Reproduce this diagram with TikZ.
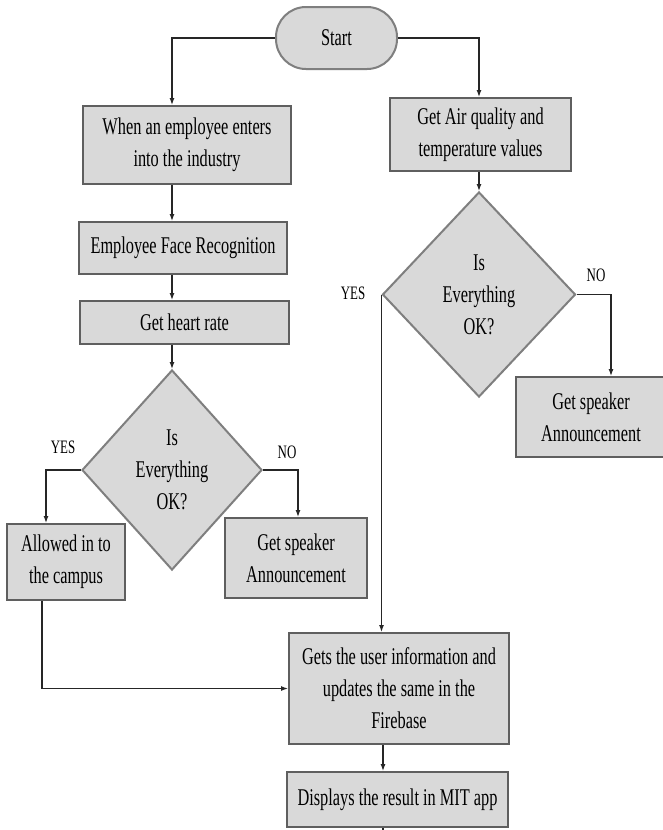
\documentclass[tikz,border=0pt]{standalone}
\usepackage{fontspec}
\setmainfont{Liberation Serif}[FakeStretch=0.68]
\usetikzlibrary{shapes.geometric,arrows.meta,calc}
\definecolor{boxfill}{HTML}{D9D9D9}
\definecolor{boxline}{HTML}{5F5F5F}
\definecolor{softline}{HTML}{7F7F7F}
\definecolor{conn}{HTML}{262626}
\newcommand\fcmain{\fontsize{24}{32}\selectfont}
\newcommand\fclabel{\fontsize{19}{22}\selectfont}
\begin{document}
\begin{tikzpicture}[x=1pt,y=-1pt,
  proc/.style={draw=boxline, line width=2pt, fill=boxfill, inner sep=0pt,
    align=center, font=\fcmain, text=black},
  term/.style={draw=softline, line width=2pt, fill=boxfill, inner sep=0pt,
    rounded corners=30pt, align=center, font=\fcmain, text=black},
  dec/.style={shape=diamond, draw=softline, line width=2pt, fill=boxfill,
    inner sep=0pt, align=center, font=\fcmain, text=black},
  lbl/.style={inner sep=0pt, font=\fclabel, text=black},
  arr/.style={draw=conn, line width=1.2pt, -{Latex[length=7pt,width=5pt]}},
  conline/.style={draw=conn, line width=1.2pt}]
\useasboundingbox (0,0) rectangle (663,830);
\fill[white] (0,0) rectangle (663,830);

% nodes
\node[term, minimum width=121pt, minimum height=62pt] (start) at (336.5,38) {Start};
\node[proc, minimum width=208pt, minimum height=78pt] (enter) at (187,145) {When an employee enters\\into the industry};
\node[proc, minimum width=181pt, minimum height=73pt] (air) at (480.5,134.5) {Get Air quality and\\temperature values};
\node[proc, minimum width=208pt, minimum height=52pt] (face) at (183,248) {Employee Face Recognition};
\node[proc, minimum width=209pt, minimum height=43pt] (heart) at (184.5,322.5) {Get heart rate};
\node[dec, minimum width=180pt, minimum height=200pt] (decL) at (172,470) {Is\\Everything\\OK?};
\node[dec, minimum width=193pt, minimum height=205pt] (decR) at (479,294.5) {Is\\Everything\\OK?};
\node[proc, minimum width=118pt, minimum height=76pt] (allow) at (66,562) {Allowed in to\\the campus};
\node[proc, minimum width=142pt, minimum height=80pt] (spkL) at (296,558) {Get speaker\\Announcement};
\node[proc, minimum width=150pt, minimum height=80pt] (spkR) at (591,417) {Get speaker\\Announcement};
\node[proc, minimum width=220pt, minimum height=111pt] (gets) at (399,688.5) {Gets the user information and\\updates the same in the\\Firebase};
\node[proc, minimum width=221pt, minimum height=55pt] (disp) at (397.5,799.5) {Displays the result in MIT app};

% labels
\node[lbl] (yesL) at (63,447) {YES};
\node[lbl] (noL) at (287,452) {NO};
\node[lbl] (yesR) at (353,293) {YES};
\node[lbl] (noR) at (596,275) {NO};

% connector columns
\coordinate (xL) at (172,0);
\coordinate (xR) at (479,0);
\coordinate (xYesL) at (46,0);
\coordinate (xNoL) at (298,0);
\coordinate (xAllow) at (42,0);
\coordinate (xNoR) at (611,0);
\coordinate (xB) at (383,0);
\coordinate (endB) at (383,836);

% connectors
\draw[arr] (start.west) -| (enter.north -| xL);
\draw[arr] (start.east) -| (air.north -| xR);
\draw[arr] (enter.south -| xL) -- (face.north -| xL);
\draw[arr] (face.south -| xL) -- (heart.north -| xL);
\draw[arr] (heart.south -| xL) -- (decL.north);
\draw[arr] (decL.west) -| (allow.north -| xYesL);
\draw[arr] (decL.east) -| (spkL.north -| xNoL);
\draw[arr] (allow.south -| xAllow) |- (gets.west);
\draw[arr] (air.south -| xR) -- (decR.north);
\draw[arr] (decR.west) -- (decR.west |- gets.north);
\draw[arr] (decR.east) -| (spkR.north -| xNoR);
\draw[arr] (gets.south -| xB) -- (disp.north -| xB);
\draw[conline] (disp.south -| xB) -- (endB);
\end{tikzpicture}
\end{document}
